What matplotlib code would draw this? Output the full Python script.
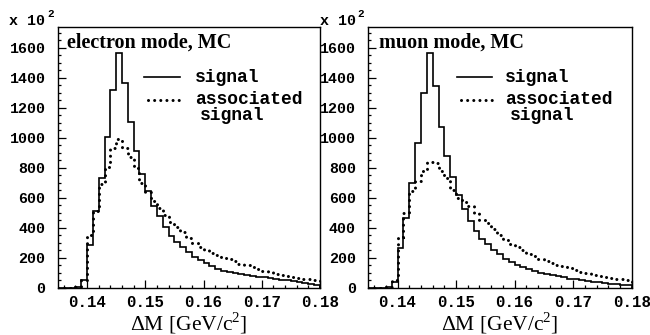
import numpy as np
import matplotlib
matplotlib.use('Agg')
import matplotlib.pyplot as plt
from matplotlib.ticker import MultipleLocator

plt.rcParams['mathtext.fontset'] = 'custom'
plt.rcParams['mathtext.rm'] = 'Liberation Serif'

# 45 bins of 1 MeV between 0.135 and 0.180 GeV/c^2 (y in units of 10^2)
bordes = np.linspace(0.135, 0.180, 46)

electron_senal = [0, 0, 0, 5, 50, 285, 512, 730, 1004, 1320, 1564, 1364, 1104, 911, 760,
                  648, 549, 478, 406, 349, 309, 271, 238, 209, 187, 165, 147, 128, 116,
                  106, 98, 92, 87, 82, 76, 71, 66, 60, 55, 50, 44, 38, 32, 27, 22]
electron_asociada = [0, 0, 0, 5, 50, 350, 515, 690, 805, 935, 995, 935, 875, 800, 700,
                     640, 582, 535, 485, 440, 405, 370, 330, 300, 272, 252, 235, 218, 203,
                     190, 177, 163, 150, 138, 125, 112, 104, 96, 88, 80, 73, 68, 63, 58, 50]

muon_senal = [0, 0, 0, 5, 40, 267, 467, 697, 964, 1297, 1564, 1349, 1075, 882, 737,
              620, 527, 449, 382, 327, 293, 253, 227, 193, 171, 155, 140, 127, 115,
              103, 93, 85, 77, 70, 63, 57, 51, 46, 41, 37, 33, 29, 25, 22, 19]
muon_asociada = [0, 0, 0, 5, 50, 340, 500, 645, 715, 780, 840, 830, 780, 735, 650,
                 600, 575, 545, 500, 450, 430, 395, 350, 320, 295, 275, 250, 225, 210,
                 195, 180, 165, 155, 145, 135, 120, 108, 98, 88, 80, 73, 68, 63, 58, 50]

modos = ['electron mode, MC', 'muon mode, MC']

fuente_mono = {'family': 'Liberation Mono', 'weight': 'bold'}
punteado = (0, (0.01, 2.0))

fig = plt.figure(figsize=(6.5, 3.35), dpi=100)
ejes = [fig.add_axes([0.0892, 0.1403, 0.403, 0.7795]),
        fig.add_axes([0.5666, 0.1403, 0.4052, 0.7795])]

datos = [(electron_senal, electron_asociada), (muon_senal, muon_asociada)]
leyenda_x = [(0.328, 0.466, 0.523, 0.542), (0.336, 0.469, 0.519, 0.538)]
titulo_x = [0.036, 0.042]

for ax, (senal, asociada), modo, lx, tx in zip(ejes, datos, modos, leyenda_x, titulo_x):
    ax.stairs(senal, bordes, color='black', linewidth=1.2)
    ax.stairs(asociada, bordes, color='black', linewidth=2.2,
              linestyle=punteado, capstyle='round')

    ax.set_xlim(0.135, 0.18)
    ax.set_ylim(0, 1740)
    ax.xaxis.set_minor_locator(MultipleLocator(0.002))
    ax.yaxis.set_minor_locator(MultipleLocator(50))
    ax.set_yticks(np.arange(0, 1601, 200))
    ax.set_xticks([0.14, 0.15, 0.16, 0.17, 0.18])
    ax.set_xticklabels(['0.14', '0.15', '0.16', '0.17', '0.18'])
    ax.tick_params(which='both', direction='in', top=False, right=False, width=0.9)
    ax.tick_params(which='major', length=5.5)
    ax.tick_params(which='minor', length=2.5)
    ax.tick_params(axis='x', pad=5)
    ax.tick_params(axis='y', pad=9)
    for lab in ax.get_yticklabels():
        lab.set_fontproperties(fuente_mono)
        lab.set_fontsize(10.8)
    for lab in ax.get_xticklabels():
        lab.set_fontproperties(fuente_mono)
        lab.set_fontsize(11.3)
    for s in ax.spines.values():
        s.set_linewidth(1.0)

    ax.set_xlabel('ΔM [GeV/c$^{2}$]', fontfamily='Liberation Serif', fontsize=15.5,
                  labelpad=0)

    ax.text(tx, 0.978, modo, transform=ax.transAxes, ha='left', va='top',
            fontfamily='Liberation Serif', fontweight='bold', fontsize=14.5)

    # factor de escala del eje y
    ax.text(-0.048, 1.023, 'x 10', transform=ax.transAxes, ha='right', va='center',
            fontsize=10.8, **fuente_mono)
    ax.text(-0.042, 1.048, '2', transform=ax.transAxes, ha='left', va='center',
            fontsize=8, **fuente_mono)

    # leyenda
    ax.plot([lx[0], lx[1]], [0.807, 0.807], color='black', linewidth=1.2,
            transform=ax.transAxes)
    ax.plot([lx[0] + 0.015, lx[1]], [0.720, 0.720], color='black', linewidth=2.2,
            linestyle=punteado, dash_capstyle='round', transform=ax.transAxes)
    ax.text(lx[2], 0.807, 'signal', transform=ax.transAxes, va='center',
            fontsize=13, **fuente_mono)
    ax.text(lx[2], 0.720, 'associated', transform=ax.transAxes, va='center',
            fontsize=13, **fuente_mono)
    ax.text(lx[3], 0.659, 'signal', transform=ax.transAxes, va='center',
            fontsize=13, **fuente_mono)

fig.savefig('out.png', dpi=100)
